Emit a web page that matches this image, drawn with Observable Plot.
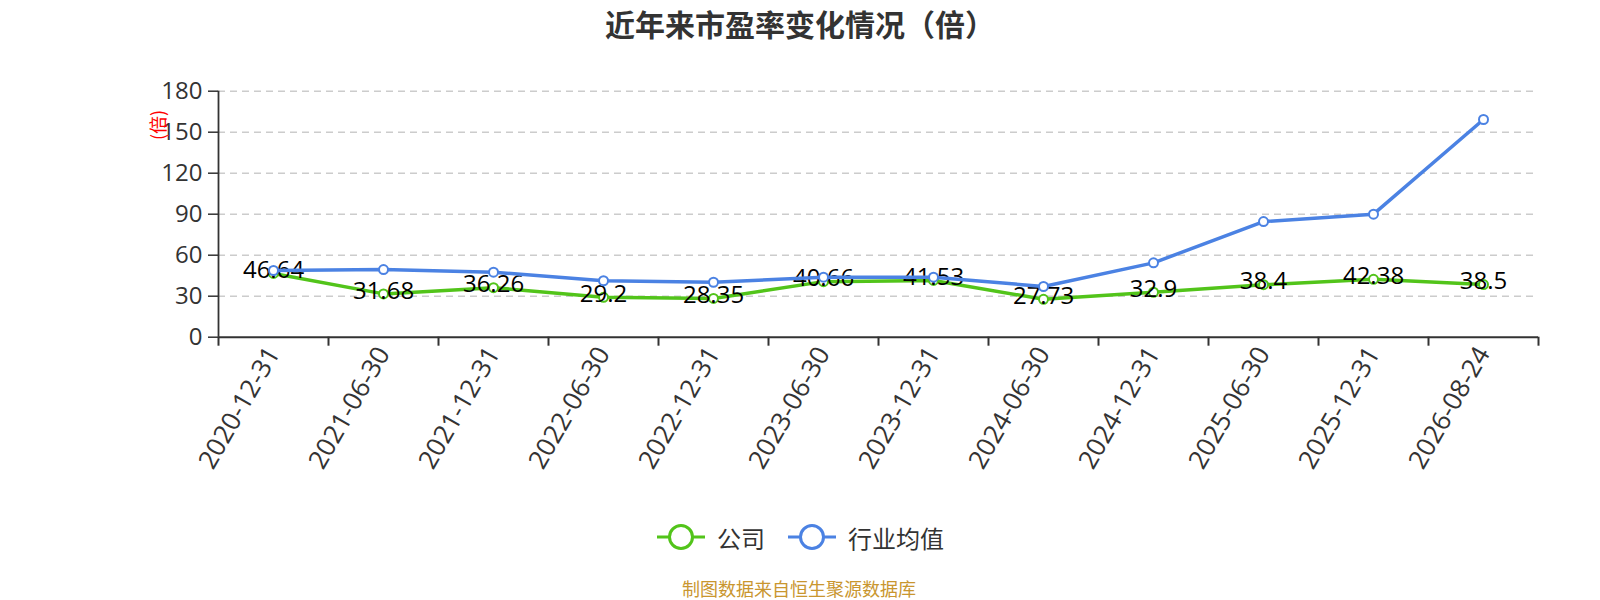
<!DOCTYPE html>
<html>
<head>
<meta charset="utf-8">
<script src="https://cdn.jsdelivr.net/npm/d3@7"></script>
<script src="https://cdn.jsdelivr.net/npm/@observablehq/plot@0.6"></script>
<style>
  html, body { margin: 0; padding: 0; background: #fff; }
  body { font-family: "Open Sans", "Noto Sans CJK SC", sans-serif; }
  #wrap { position: relative; width: 1600px; height: 600px; overflow: hidden; }
  #title { position: absolute; left: 0; width: 1600px; text-align: center; top: 5px; font-family: "Noto Sans CJK SC", sans-serif; font-weight: bold; font-size: 30px; line-height: 36px; color: #333; white-space: nowrap; }
  #chart { position: absolute; left: 0; top: 50px; }
  #yname { position: absolute; left: 157px; top: 124.5px; font-family: "Noto Sans CJK SC", sans-serif; font-size: 18px; color: #ff0000; transform-origin: center center; transform: translate(-50%, -50%) rotate(-90deg); line-height: 18px; white-space: nowrap; }
  #legend { position: absolute; left: 656px; top: 519px; height: 36px; display: flex; align-items: center; font-family: "Noto Sans CJK SC", sans-serif; font-size: 24px; color: #333; white-space: nowrap; }
  #legend .item { display: flex; align-items: center; }
  #legend svg { display: block; }
  #footer { position: absolute; left: 682px; top: 576px; font-family: "Noto Sans CJK SC", sans-serif; font-size: 18px; line-height: 24px; color: #c9962f; white-space: nowrap; }
</style>
</head>
<body>
<div id="wrap">
  <div id="title"></div>
  <div id="chart"></div>
  <div id="yname"></div>
  <div id="legend"></div>
  <div id="footer"></div>
</div>
<script>
const titleText = "近年来市盈率变化情况（倍）";
const yAxisName = "(倍)";
const footerText = "制图数据来自恒生聚源数据库";
const dates = ["2020-12-31","2021-06-30","2021-12-31","2022-06-30","2022-12-31","2023-06-30","2023-12-31","2024-06-30","2024-12-31","2025-06-30","2025-12-31","2026-08-24"];
const company = [46.64, 31.68, 36.26, 29.2, 28.35, 40.66, 41.53, 27.73, 32.9, 38.4, 42.38, 38.5];
const industry = [48.8, 49.5, 47.6, 41.3, 40.2, 43.9, 43.9, 37.1, 54.4, 84.6, 90.0, 159.3];
const yTicks = [0, 30, 60, 90, 120, 150, 180];
const seriesNames = ["公司", "行业均值"];
const colors = ["#52c41a", "#4b82e3"];

document.getElementById("title").textContent = titleText;
document.getElementById("yname").textContent = yAxisName;
document.getElementById("footer").textContent = footerText;

const xi = (d, i) => i + 0.5;
const plot = Plot.plot({
  width: 1600,
  height: 440,
  marginLeft: 218,
  marginRight: 62,
  marginTop: 40.7,
  marginBottom: 153.3,
  style: { fontFamily: "'Open Sans','Noto Sans CJK SC',sans-serif", background: "transparent" },
  x: { domain: [0, dates.length], axis: null },
  y: { domain: [0, 180], axis: null },
  marks: [
    Plot.gridY(yTicks.filter(d => d > 0), { stroke: "#cccccc", strokeOpacity: 1, strokeWidth: 1.4, strokeDasharray: "7,5" }),
    Plot.axisY({ ticks: yTicks, tickSize: 10, tickPadding: 6, fontSize: 24, color: "#333", strokeWidth: 1.5, tickFormat: d => String(d) }),
    Plot.ruleX([0], { stroke: "#333", strokeWidth: 1.8 }),
    Plot.ruleY([0], { stroke: "#333", strokeWidth: 2 }),
    Plot.axisX({ ticks: d3.range(dates.length + 1), tickSize: 9, tickFormat: () => "", stroke: "#333", strokeWidth: 2 }),
    Plot.axisX({ ticks: dates.map((d, i) => i + 0.5), tickSize: 0, tickPadding: 12, tickRotate: -60, fontSize: 26, color: "#333", tickFormat: v => dates[Math.floor(v)] }),
    Plot.line(company, { x: xi, y: d => d, stroke: colors[0], strokeWidth: 3.5 }),
    Plot.dot(company, { x: xi, y: d => d, r: 4.5, fill: "white", stroke: colors[0], strokeWidth: 2 }),
    Plot.text(company, { x: xi, y: d => d, text: d => String(d), dy: -3, fontSize: 24, fill: "#000" }),
    Plot.line(industry, { x: xi, y: d => d, stroke: colors[1], strokeWidth: 3.5 }),
    Plot.dot(industry, { x: xi, y: d => d, r: 4.5, fill: "white", stroke: colors[1], strokeWidth: 2 })
  ]
});
document.getElementById("chart").appendChild(plot);

const legend = document.getElementById("legend");
seriesNames.forEach((name, i) => {
  const item = document.createElement("div");
  item.className = "item";
  item.style.marginRight = i === 0 ? "22px" : "0";
  item.innerHTML = `<svg width="50" height="30" viewBox="0 0 50 30"><line x1="1" y1="15" x2="49" y2="15" stroke="${colors[i]}" stroke-width="3"/><circle cx="25" cy="15" r="11.5" fill="white" stroke="${colors[i]}" stroke-width="3"/></svg><span style="margin-left:11px">${name}</span>`;
  legend.appendChild(item);
});
</script>
</body>
</html>
